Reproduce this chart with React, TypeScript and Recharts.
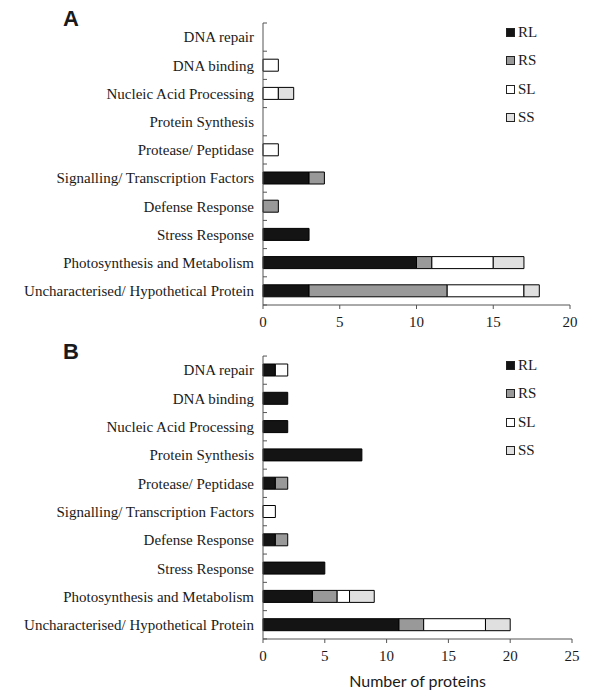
import React from 'react';
import { BarChart, Bar, XAxis, YAxis } from 'recharts';

const categories = [
  'DNA repair',
  'DNA binding',
  'Nucleic Acid Processing',
  'Protein Synthesis',
  'Protease/ Peptidase',
  'Signalling/ Transcription Factors',
  'Defense Response',
  'Stress Response',
  'Photosynthesis and Metabolism',
  'Uncharacterised/ Hypothetical Protein',
];

const seriesKeys = ['RL', 'RS', 'SL', 'SS'];
const seriesColors = ['#141414', '#999999', '#ffffff', '#e0e0e0'];

// Panel A
const aRL = [0, 0, 0, 0, 0, 3, 0, 3, 10, 3];
const aRS = [0, 0, 0, 0, 0, 1, 1, 0, 1, 9];
const aSL = [0, 1, 1, 0, 1, 0, 0, 0, 4, 5];
const aSS = [0, 0, 1, 0, 0, 0, 0, 0, 2, 1];
const aTicks = [0, 5, 10, 15, 20];

// Panel B
const bRL = [1, 2, 2, 8, 1, 0, 1, 5, 4, 11];
const bRS = [0, 0, 0, 0, 1, 0, 1, 0, 2, 2];
const bSL = [1, 0, 0, 0, 0, 1, 0, 0, 1, 5];
const bSS = [0, 0, 0, 0, 0, 0, 0, 0, 2, 2];
const bTicks = [0, 5, 10, 15, 20, 25];

const buildRows = (rl: number[], rs: number[], sl: number[], ss: number[]) =>
  categories.map((name, i) => ({ name, RL: rl[i], RS: rs[i], SL: sl[i], SS: ss[i] }));

const dataA = buildRows(aRL, aRS, aSL, aSS);
const dataB = buildRows(bRL, bRS, bSL, bSS);

const serif = '"Liberation Serif", "Times New Roman", serif';
const axisColor = '#555';
const PLOT_H = 282;
const BAND = PLOT_H / categories.length;

const CategoryTick = (props: any) => {
  const { x, y, payload, index } = props;
  return (
    <g>
      <line x1={x + 8} x2={x + 12} y1={y + BAND / 2} y2={y + BAND / 2} stroke={axisColor} />
      {index === 0 && (
        <line x1={x + 8} x2={x + 12} y1={y - BAND / 2} y2={y - BAND / 2} stroke={axisColor} />
      )}
      <text x={x - 1} y={y} dy="0.35em" textAnchor="end" fontFamily={serif} fontSize={15} fill="#1a1a1a">
        {payload.value}
      </text>
    </g>
  );
};

const LegendBox = ({ top }: { top: number }) => (
  <div
    style={{
      position: 'absolute',
      left: 506,
      top,
      fontFamily: serif,
      fontSize: 15,
      color: '#1a1a1a',
    }}
  >
    {seriesKeys.map((k, i) => (
      <div key={k} style={{ display: 'flex', alignItems: 'center', height: 28.5 }}>
        <span
          style={{
            display: 'inline-block',
            width: 7,
            height: 7,
            background: seriesColors[i],
            border: '1px solid #222',
            marginRight: 3,
          }}
        />
        {k}
      </div>
    ))}
  </div>
);

const Panel = ({
  data,
  ticks,
  label,
  height,
  bottomAxis,
  rightMargin,
}: {
  data: any[];
  ticks: number[];
  label: string;
  height: number;
  bottomAxis: number;
  rightMargin: number;
}) => (
  <div style={{ position: 'relative', width: 589, height }}>
    <div
      style={{
        position: 'absolute',
        left: 63,
        top: 7,
        fontFamily: '"Liberation Sans", Arial, sans-serif',
        fontWeight: 'bold',
        fontSize: 22,
        color: '#1a1a1a',
        lineHeight: '24px',
      }}
    >
      {label}
    </div>
    <BarChart
      layout="vertical"
      width={589}
      height={height}
      data={data}
      margin={{ top: 23, right: rightMargin, bottom: 0, left: 0 }}
      barSize={12}
    >
      <XAxis
        type="number"
        domain={[ticks[0], ticks[ticks.length - 1]]}
        ticks={ticks}
        interval={0}
        height={bottomAxis}
        stroke={axisColor}
        tickSize={4}
        tickMargin={7}
        tick={{ fontFamily: serif, fontSize: 15, fill: '#1a1a1a' }}
        label={
          bottomAxis > 40
            ? {
                value: 'Number of proteins',
                position: 'insideBottom',
                offset: 4,
                style: { fontFamily: 'Lato, sans-serif', fontSize: 16, fill: '#1a1a1a' },
              }
            : undefined
        }
      />
      <YAxis
        type="category"
        dataKey="name"
        width={263}
        stroke={axisColor}
        tickLine={false}
        tick={<CategoryTick />}
        interval={0}
      />
      {seriesKeys.map((k, i) => (
        <Bar
          key={k}
          dataKey={k}
          stackId="s"
          fill={seriesColors[i]}
          stroke="#000"
          strokeWidth={1}
          isAnimationActive={false}
        />
      ))}
    </BarChart>
    <LegendBox top={18} />
  </div>
);

export default function App() {
  return (
    <div style={{ position: 'absolute', left: 0, top: 0, width: 589, height: 691, background: '#fff' }}>
      <Panel data={dataA} ticks={aTicks} label="A" height={335} bottomAxis={30} rightMargin={19} />
      <div style={{ position: 'absolute', left: 0, top: 333 }}>
        <Panel data={dataB} ticks={bTicks} label="B" height={358} bottomAxis={52} rightMargin={17} />
      </div>
    </div>
  );
}
